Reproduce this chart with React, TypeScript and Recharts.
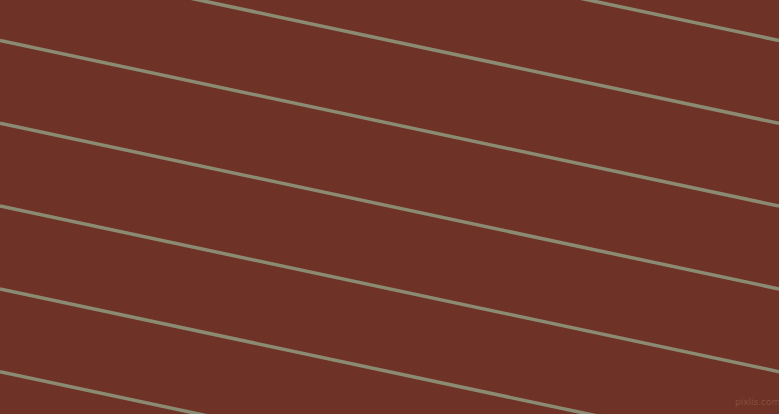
import { Line, LineChart, XAxis, YAxis } from "recharts"

// y where each stripe crosses the left edge (x = 0) and the right edge (x = 779)
const leftY = [-125.1, -42.3, 40.5, 123.3, 206, 289, 371.7]
const rightY = [40.5, 123.3, 206.1, 289, 371.7, 454.5, 537.3]
const edgesX = [0, 779]

const keys = leftY.map((_, i) => `s${i}`)

const data = edgesX.map((x, j) => {
  const row: Record<string, number> = { x }
  keys.forEach((k, i) => {
    row[k] = j === 0 ? leftY[i] : rightY[i]
  })
  return row
})

export default function App() {
  return (
    <div
      style={{
        position: "absolute",
        top: 0,
        left: 0,
        width: 779,
        height: 414,
        background: "#6e3226",
        overflow: "hidden",
      }}
    >
      <LineChart width={779} height={414} data={data} margin={{ top: 0, right: 0, bottom: 0, left: 0 }}>
        <XAxis dataKey="x" type="number" domain={[0, 779]} hide allowDataOverflow />
        <YAxis type="number" domain={[0, 414]} reversed hide allowDataOverflow width={0} />
        {keys.map((k) => (
          <Line
            key={k}
            dataKey={k}
            stroke="#8b8b73"
            strokeWidth={3.5}
            dot={false}
            activeDot={false}
            isAnimationActive={false}
          />
        ))}
      </LineChart>
      <div
        style={{
          position: "absolute",
          left: 735,
          top: 397,
          fontFamily: "DejaVu Sans, sans-serif",
          fontSize: 9,
          color: "#85503f",
        }}
      >
        pixlis.com
      </div>
    </div>
  )
}
